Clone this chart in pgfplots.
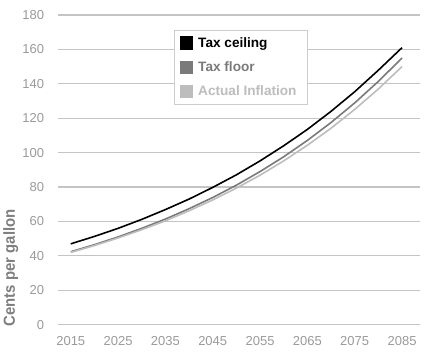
\documentclass[border=0pt]{standalone}
\usepackage{fontspec}
\setmainfont{Liberation Sans}
\usepackage{graphicx}
\usepackage{pgfplots}
\pgfplotsset{compat=1.18}
\definecolor{gridc}{HTML}{C4C4C4}
\definecolor{tickc}{HTML}{9A9A9A}
\definecolor{floorc}{HTML}{7A7A7A}
\definecolor{inflc}{HTML}{BDBDBD}
\definecolor{labc}{HTML}{7E7E7E}
\definecolor{legb}{HTML}{CDCDCD}
\begin{document}
\begin{tikzpicture}
\begin{axis}[
  scale only axis, width=362pt, height=309.5pt,
  xmin=2012.25, xmax=2088.8, ymin=0, ymax=180,
  axis line style={draw=none},
  ytick={0,20,...,180}, xtick={2015,2025,...,2085},
  ymajorgrids, major grid style={gridc, line width=1.1pt},
  major tick length=0pt,
  tick label style={font=\fontsize{13}{15}\selectfont, text=tickc},
  yticklabel style={xshift=-10pt},
  xticklabel style={yshift=-8pt},
  /pgf/number format/assume math mode=true,
  /pgf/number format/1000 sep={},
  clip=false,
  every axis y label/.style={at={(axis description cs:-0.1295,-0.0161)}, rotate=90, anchor=west},
  ylabel={\scalebox{0.93}[1]{\fontsize{16}{18}\selectfont\bfseries\color{labc}Cents per gallon}},
  legend style={at={(0.3196,0.9516)}, anchor=north west, draw=legb, line width=0.8pt, fill=white,
    font=\bfseries\fontsize{13.6}{16}\selectfont, inner xsep=6pt, inner ysep=5pt, row sep=9pt,
    nodes={inner xsep=5pt}},
  legend cell align=left,
]
\addplot[black, line width=1.6pt, legend image code/.code={\fill[black] (0pt,-5.8pt) rectangle (11.7pt,5.8pt);}] coordinates {
(2015,47.0) (2020,51.3) (2025,56.0) (2030,61.2) (2035,66.9) (2040,73.0) (2045,79.8) (2050,87.1) (2055,95.2) (2060,104.0) (2065,113.5) (2070,124.0) (2075,135.4) (2080,147.9) (2085,161.0)};
\addlegendentry{\textcolor{black}{Tax ceiling}}
\addplot[floorc, line width=1.6pt, legend image code/.code={\fill[floorc] (0pt,-5.8pt) rectangle (11.7pt,5.8pt);}] coordinates {
(2015,42.4) (2020,46.5) (2025,51.0) (2030,56.0) (2035,61.4) (2040,67.4) (2045,73.9) (2050,81.1) (2055,89.0) (2060,97.6) (2065,107.1) (2070,117.5) (2075,128.9) (2080,141.4) (2085,155.0)};
\addlegendentry{\textcolor{floorc}{Tax floor}}
\addplot[inflc, line width=1.6pt, legend image code/.code={\fill[inflc] (0pt,-5.8pt) rectangle (11.7pt,5.8pt);}] coordinates {
(2015,42.0) (2020,46.0) (2025,50.4) (2030,55.2) (2035,60.4) (2040,66.2) (2045,72.5) (2050,79.4) (2055,86.9) (2060,95.2) (2065,104.3) (2070,114.2) (2075,125.1) (2080,137.0) (2085,150.0)};
\addlegendentry{\textcolor{inflc}{Actual Inflation}}
\path (axis description cs:-0.157,-0.0871) rectangle (axis description cs:1.0138,1.0484);
\end{axis}
\end{tikzpicture}
\end{document}
